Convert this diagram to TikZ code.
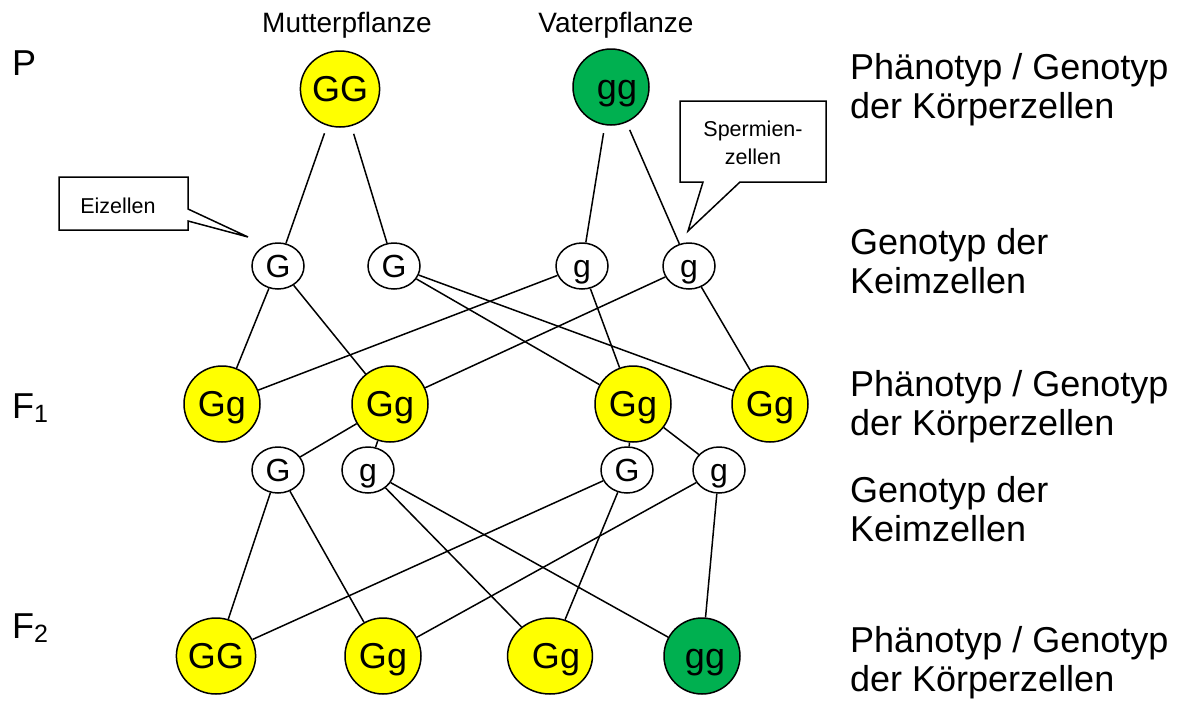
\documentclass[tikz,border=0pt]{standalone}
\usepackage{fontspec}
\setmainfont{Liberation Sans}
\usetikzlibrary{shapes.geometric}
\definecolor{gelb}{RGB}{255,255,0}
\definecolor{gruen}{RGB}{0,176,80}
\begin{document}
\begin{tikzpicture}[x=1pt,y=-1pt,
  body/.style={ellipse,draw=black,line width=1.5pt,minimum width=76pt,minimum height=76pt,inner sep=0pt,text height=25.5pt,text depth=0pt,font=\fontsize{36}{36}\selectfont},
  yel/.style={body,fill=gelb},
  grn/.style={body,fill=gruen},
  gamete/.style={ellipse,draw=black,fill=white,line width=1.5pt,minimum width=52pt,minimum height=46pt,inner sep=0pt,text height=23pt,text depth=0pt,font=\fontsize{32}{32}\selectfont},
  link/.style={line width=1.5pt},
  gen/.style={anchor=base west,inner sep=0pt,font=\fontsize{36}{36}\selectfont},
  desc/.style={anchor=north west,inner sep=0pt,align=left,font=\fontsize{36}{39}\selectfont},
  small/.style={anchor=base,inner sep=0pt,font=\fontsize{28}{28}\selectfont},
  callout/.style={draw=black,fill=white,line width=1.5pt},
  ctext/.style={inner sep=0pt,align=center,font=\fontsize{21.5}{28}\selectfont}
]
\useasboundingbox (0,0) rectangle (1184,702);
% generation labels
\node[gen] (lP) at (12,75) {P};
\node[gen] (lF1) at (12,418) {F\raisebox{-4pt}{\fontsize{25}{25}\selectfont 1}};
\node[gen] (lF2) at (12,638) {F\raisebox{-4pt}{\fontsize{25}{25}\selectfont 2}};
% parent labels
\node[small] (mut) at (347,32) {Mutterpflanze};
\node[small] (vat) at (616,32) {Vaterpflanze};
% P
\node[yel] (PGG) at (340,89) {GG};
\node[grn] (Pgg) at (611,87) {\hspace{12pt}gg};
% gametes 1
\node[gamete] (k1) at (278,266) {G};
\node[gamete] (k2) at (394,266) {G};
\node[gamete] (k3) at (582,266) {g};
\node[gamete] (k4) at (689,266) {g};
% F1
\node[yel] (fa) at (222,404) {Gg};
\node[yel] (fb) at (390,404) {Gg};
\node[yel] (fc) at (633,404) {Gg};
\node[yel] (fd) at (770,404) {Gg};
% gametes 2
\node[gamete] (m1) at (278,470) {G};
\node[gamete] (m2) at (368,470) {g};
\node[gamete] (m3) at (627,470) {G};
\node[gamete] (m4) at (719,470) {g};
% F2
\node[yel] (sA) at (216,656) {GG};
\node[yel] (sB) at (383,656) {Gg};
\node[yel] (sC) at (550,656) {\hspace{12pt}Gg};
\node[grn] (sD) at (702,656) {\hspace{6pt}gg};
% connectors
\draw[link,shorten <=8pt] (PGG) -- (k1);
\draw[link,shorten <=8pt] (PGG) -- (k2);
\draw[link,shorten <=8pt] (Pgg) -- (k3);
\draw[link,shorten <=8pt] (Pgg) -- (k4);
\draw[link] (k1) -- (fa);
\draw[link] (k1) -- (fb);
\draw[link] (k2) -- (fc);
\draw[link] (k2) -- (fd);
\draw[link] (k3) -- (fa);
\draw[link] (k3) -- (fc);
\draw[link] (k4) -- (fb);
\draw[link] (k4) -- (fd);
\draw[link] (fb) -- (m1);
\draw[link] (fb) -- (m2);
\draw[link] (fc) -- (m3);
\draw[link] (fc) -- (m4);
\draw[link] (m1) -- (sA);
\draw[link] (m1) -- (sB);
\draw[link] (m2) -- (sC);
\draw[link] (m2) -- (sD);
\draw[link] (m3) -- (sA);
\draw[link] (m3) -- (sC);
\draw[link] (m4) -- (sB);
\draw[link] (m4) -- (sD);
% callouts
\coordinate (tipE) at (248,237);
\draw[callout] (59,177) -- (188,177) -- (188,209) -- (tipE) -- (188,221) -- (188,230) -- (59,230) -- cycle;
\node[ctext,anchor=base] (ei) at (118,213) {Eizellen};
\coordinate (tipS) at (688,231);
\draw[callout] (680,101) -- (826,101) -- (826,182) -- (740,182) -- (tipS) -- (703,182) -- (680,182) -- cycle;
\node[ctext,anchor=center] (sp) at (753,143) {Spermien-\\zellen};
% right descriptions
\node[desc] (d1) at (850,53) {Phänotyp / Genotyp\\der Körperzellen};
\node[desc] (d2) at (850,228) {Genotyp der\\Keimzellen};
\node[desc] (d3) at (850,370) {Phänotyp / Genotyp\\der Körperzellen};
\node[desc] (d4) at (850,476) {Genotyp der\\Keimzellen};
\node[desc] (d5) at (850,626) {Phänotyp / Genotyp\\der Körperzellen};
\end{tikzpicture}
\end{document}
